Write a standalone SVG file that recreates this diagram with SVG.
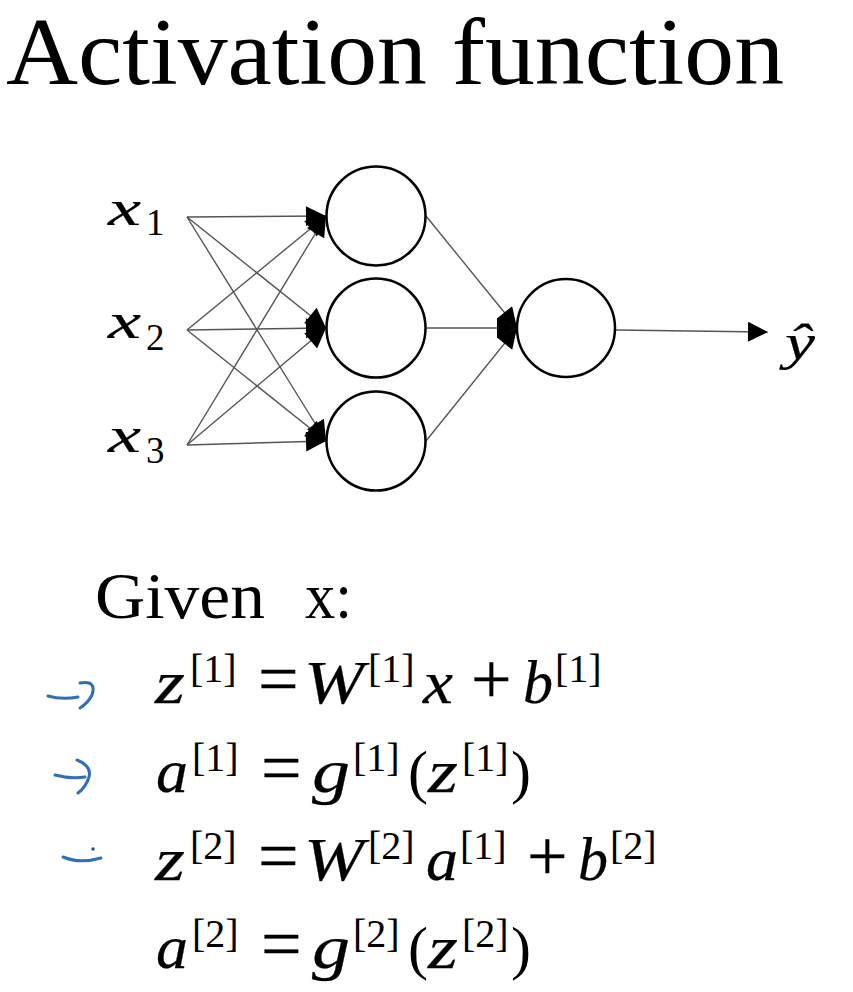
<svg xmlns="http://www.w3.org/2000/svg" width="853" height="992" viewBox="0 0 853 992">
<style>
.title{font-family:"Liberation Serif",serif;font-size:95px;fill:#000}
.given{font-family:"Liberation Serif",serif;font-size:66px;fill:#000}
.v{font-family:"Liberation Serif",serif;font-style:italic;font-size:62px;fill:#000;stroke:#000;stroke-width:0.25}
.lab{font-family:"Liberation Serif",serif;font-style:italic;font-size:50px;fill:#000;stroke:#000;stroke-width:0.2}
.sub{font-family:"Liberation Serif",serif;font-size:37px;fill:#000}
.sup{font-family:"Liberation Serif",serif;font-size:40px;fill:#000}
.op{font-family:"Liberation Serif",serif;font-size:72px;fill:#000;stroke:#000;stroke-width:0.3}
.par{font-family:"Liberation Serif",serif;font-size:60px;fill:#000}
.node{fill:#fff;stroke:#000;stroke-width:2.5}
.edge{stroke:#555;stroke-width:1.4;fill:none}
.ink{stroke:#2f6fba;stroke-width:3;fill:none;stroke-linecap:round}
</style>
<defs>
<marker id="arr" viewBox="0 0 20 20" markerUnits="userSpaceOnUse" markerWidth="21" markerHeight="20" refX="20" refY="10" orient="auto">
<path d="M0,0 L20,10 L0,20 z" fill="#000"/>
</marker>
</defs>
<rect width="853" height="992" fill="#fff"/>

<text class="title" x="6" y="84" textLength="778" lengthAdjust="spacingAndGlyphs">Activation function</text>

<g id="connectors">
<line class="edge" x1="187" y1="217" x2="326" y2="216" marker-end="url(#arr)"/>
<line class="edge" x1="187" y1="217" x2="326" y2="328" marker-end="url(#arr)"/>
<line class="edge" x1="187" y1="217" x2="326" y2="441" marker-end="url(#arr)"/>
<line class="edge" x1="187" y1="330" x2="326" y2="216" marker-end="url(#arr)"/>
<line class="edge" x1="187" y1="330" x2="326" y2="328" marker-end="url(#arr)"/>
<line class="edge" x1="187" y1="330" x2="326" y2="441" marker-end="url(#arr)"/>
<line class="edge" x1="187" y1="445" x2="326" y2="216" marker-end="url(#arr)"/>
<line class="edge" x1="187" y1="445" x2="326" y2="328" marker-end="url(#arr)"/>
<line class="edge" x1="187" y1="445" x2="326" y2="441" marker-end="url(#arr)"/>
<line class="edge" x1="426" y1="216" x2="517" y2="328" marker-end="url(#arr)"/>
<line class="edge" x1="426" y1="328" x2="517" y2="328" marker-end="url(#arr)"/>
<line class="edge" x1="426" y1="441" x2="517" y2="328" marker-end="url(#arr)"/>
<line class="edge" x1="616" y1="330" x2="768" y2="332" marker-end="url(#arr)"/>
</g>

<g id="input-x1"><text class="lab" x="108" y="225" textLength="33" lengthAdjust="spacingAndGlyphs">x</text><text class="sub" x="146" y="235">1</text></g>
<g id="input-x2"><text class="lab" x="108" y="338" textLength="33" lengthAdjust="spacingAndGlyphs">x</text><text class="sub" x="146" y="350">2</text></g>
<g id="input-x3"><text class="lab" x="108" y="452" textLength="33" lengthAdjust="spacingAndGlyphs">x</text><text class="sub" x="146" y="463">3</text></g>

<g id="hidden-1"><circle class="node" cx="376" cy="216" r="49.5"/></g>
<g id="hidden-2"><circle class="node" cx="376" cy="328" r="49.5"/></g>
<g id="hidden-3"><circle class="node" cx="376" cy="441" r="49.5"/></g>
<g id="output"><circle class="node" cx="566" cy="328" r="49"/></g>
<g id="yhat"><text class="lab" x="785" y="359" textLength="30" lengthAdjust="spacingAndGlyphs">ŷ</text></g>

<g id="given"><text class="given" x="95" y="618" textLength="170" lengthAdjust="spacingAndGlyphs">Given</text><text class="given" x="305" y="618" textLength="47" lengthAdjust="spacingAndGlyphs">x:</text></g>

<g id="eq1">
<text class="v" x="155" y="703" textLength="30" lengthAdjust="spacingAndGlyphs">z</text><text class="sup" x="190" y="682">[1]</text>
<text class="op" x="258" y="703">=</text>
<text class="v" x="304" y="703" textLength="60" lengthAdjust="spacingAndGlyphs">W</text><text class="sup" x="368" y="682">[1]</text>
<text class="v" x="423" y="703" textLength="30" lengthAdjust="spacingAndGlyphs">x</text>
<text class="op" x="471" y="703">+</text>
<text class="v" x="523" y="703" textLength="30" lengthAdjust="spacingAndGlyphs">b</text><text class="sup" x="555" y="682">[1]</text>
</g>
<g id="eq2">
<text class="v" x="156" y="792" textLength="32" lengthAdjust="spacingAndGlyphs">a</text><text class="sup" x="192" y="771">[1]</text>
<text class="op" x="261" y="792">=</text>
<text class="v" x="312" y="792" textLength="38" lengthAdjust="spacingAndGlyphs">g</text><text class="sup" x="353" y="771">[1]</text>
<text class="par" x="408" y="792">(</text>
<text class="v" x="428" y="792" textLength="30" lengthAdjust="spacingAndGlyphs">z</text><text class="sup" x="462" y="771">[1]</text>
<text class="par" x="511" y="792">)</text>
</g>
<g id="eq3">
<text class="v" x="155" y="880" textLength="30" lengthAdjust="spacingAndGlyphs">z</text><text class="sup" x="190" y="859">[2]</text>
<text class="op" x="258" y="880">=</text>
<text class="v" x="304" y="880" textLength="60" lengthAdjust="spacingAndGlyphs">W</text><text class="sup" x="368" y="859">[2]</text>
<text class="v" x="426" y="880" textLength="32" lengthAdjust="spacingAndGlyphs">a</text><text class="sup" x="460" y="859">[1]</text>
<text class="op" x="527" y="880">+</text>
<text class="v" x="578" y="880" textLength="30" lengthAdjust="spacingAndGlyphs">b</text><text class="sup" x="610" y="859">[2]</text>
</g>
<g id="eq4">
<text class="v" x="156" y="968" textLength="32" lengthAdjust="spacingAndGlyphs">a</text><text class="sup" x="192" y="947">[2]</text>
<text class="op" x="261" y="968">=</text>
<text class="v" x="312" y="968" textLength="38" lengthAdjust="spacingAndGlyphs">g</text><text class="sup" x="353" y="947">[2]</text>
<text class="par" x="408" y="968">(</text>
<text class="v" x="428" y="968" textLength="30" lengthAdjust="spacingAndGlyphs">z</text><text class="sup" x="462" y="947">[2]</text>
<text class="par" x="511" y="968">)</text>
</g>

<g id="annotations">
<path class="ink" d="M48,696 Q62,700 78,697"/>
<path class="ink" d="M80,683 Q97,680 92,695 Q88,703 80,708"/>
<path class="ink" d="M55,775 Q70,779 85,777"/>
<path class="ink" d="M77,760 Q92,766 89,777 Q86,787 78,793"/>
<path class="ink" d="M63,857 Q80,864 101,858"/>
<circle cx="93" cy="849" r="1.8" fill="#2f4f8a"/>
</g>
</svg>
